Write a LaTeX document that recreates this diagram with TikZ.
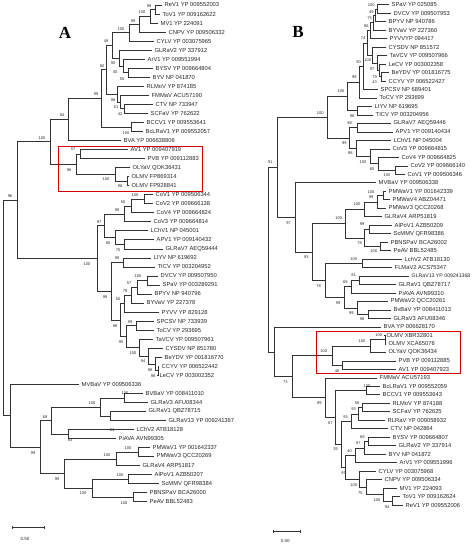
\documentclass[tikz,border=0pt]{standalone}
\usepackage{fontspec}
\usetikzlibrary{calc}
\setmainfont{Liberation Sans}
\newfontfamily\panelfont{Liberation Serif}
\begin{document}
\begin{tikzpicture}[x=1pt,y=-1pt]
\tikzset{
 br/.style={draw=black!80, line width=0.6pt},
 lf/.style={font=\fontsize{5.8}{6}\selectfont, anchor=west, inner xsep=2.5pt, inner ysep=0pt, text=black!85},
 lfn/.style={lf, font=\fontsize{5.2}{6}\selectfont},
 bs/.style={font=\fontsize{4}{4}\selectfont, inner sep=0pt, text=black!85},
 redbox/.style={draw=red!85!black, line width=0.8pt},
 panel/.style={font=\panelfont\bfseries\fontsize{17}{17}\selectfont, inner sep=0pt},
 sc/.style={font=\fontsize{4.5}{5}\selectfont, inner sep=0pt, text=black!85}
}
\newcommand\twig[3]{\draw[br] (#1) |- (#2); \draw[br] (#1) |- (#3);}
\useasboundingbox (0,0) rectangle (474,548);
% ===================== PANEL A =====================
\node[panel] (pA) at (65,33) {A};
\node[lf] (A1) at (162,5.0) {ReV1 YP 009552003};
\node[lf] (A2) at (160,14.03) {ToV1 YP 009162622};
\node[lf] (A3) at (158,23.06) {MV1 YP 224091};
\node[lf] (A4) at (166,32.09) {CNPV YP 009506332};
\node[lf] (A5) at (154,41.12) {CYLV YP 003075965};
\node[lf] (A6) at (152,50.15) {GLRaV2 YP 337912};
\node[lf] (A7) at (145,59.18) {ArV1 YP 009551994};
\node[lf] (A8) at (153,68.21) {BYSV YP 009664804};
\node[lf] (A9) at (150,77.24) {BYV NP 041870};
\node[lf] (A10) at (144,86.27) {RLMoV YP 874185};
\node[lf] (A11) at (149,95.3) {FMMaV ACU57190};
\node[lf] (A12) at (153,104.33) {CTV NP 733947};
\node[lf] (A13) at (148,113.36) {SCFaV YP 762622};
\node[lf] (A14) at (144,122.39) {BCCV1 YP 009553641};
\node[lf] (A15) at (143,131.42) {BcLRaV1 YP 009552057};
\node[lf] (A16) at (121,140.45) {BVA YP 006638806};
\node[lf] (A17) at (128,149.48) {AV1 YP 009407919};
\node[lf] (A18) at (145,158.51) {PVB YP 009112883};
\node[lf] (A19) at (130,167.54) {OLYaV QOK36431};
\node[lf] (A20) at (129,176.57) {OLMV FP869314};
\node[lf] (A21) at (129,185.6) {OLMV FP928841};
\node[lf] (A22) at (153,194.63) {CoV1 YP 009506344};
\node[lf] (A23) at (153,203.66) {CoV2 YP 009666138};
\node[lf] (A24) at (154,212.69) {CoV4 YP 009664824};
\node[lf] (A25) at (151,221.72) {CoV3 YP 009664814};
\node[lf] (A26) at (148,230.75) {LChV1 NP 045001};
\node[lf] (A27) at (154,239.78) {APV1 YP 009140432};
\node[lf] (A28) at (163,248.81) {GLRaV7 AEQ59444};
\node[lf] (A29) at (151,257.84) {LIYV NP 619692};
\node[lf] (A30) at (155,266.87) {TICV YP 003204952};
\node[lf] (A31) at (158,275.9) {DVCV YP 009507950};
\node[lf] (A32) at (160,284.93) {SPaV YP 003289291};
\node[lf] (A33) at (152,293.96) {BPYV NP 940796};
\node[lf] (A34) at (144,302.99) {BYVaV YP 227378};
\node[lf] (A35) at (159,312.02) {PYVV YP 829128};
\node[lf] (A36) at (154,321.05) {SPCSV NP 733939};
\node[lf] (A37) at (154,330.08) {ToCV YP 293695};
\node[lf] (A38) at (153,339.11) {TaVCV YP 009507961};
\node[lf] (A39) at (163,348.14) {CYSDV NP 851780};
\node[lf] (A40) at (162,357.17) {BeYDV YP 001816770};
\node[lf] (A41) at (159,366.2) {CCYV YP 006522442};
\node[lf] (A42) at (157,375.23) {LeCV YP 003002352};
\node[lf] (A43) at (79,384.26) {MVBaV YP 009506336};
\node[lf] (A44) at (143,393.29) {BVBaV YP 008411010};
\node[lf] (A45) at (148,402.32) {GLRaV3 AFU08344};
\node[lf] (A46) at (146,411.35) {GLRaV1 QBZ78715};
\node[lf] (A47) at (166,420.38) {GLRaV13 YP 009241367};
\node[lf] (A48) at (134,429.41) {LChV2 ATB18128};
\node[lf] (A49) at (116,438.44) {PiAVA AVN99305};
\node[lf] (A50) at (150,447.47) {PMWaV1 YP 001642337};
\node[lf] (A51) at (154,456.5) {PMWaV3 QCC20269};
\node[lf] (A52) at (140,465.53) {GLRaV4 ARP51817};
\node[lf] (A53) at (152,474.56) {AlPoV1 AZB50207};
\node[lf] (A54) at (159,483.59) {ScMMV QFR98384};
\node[lf] (A55) at (147,492.62) {PBNSPaV BCA26000};
\node[lf] (A56) at (147,501.65) {PeAV BBL52483};
% internal nodes A
\coordinate (na) at (155,9.5);
\coordinate (nb) at (150,16.3);
\coordinate (nc) at (139,24.2);
\coordinate (nd) at (129,32.7);
\coordinate (ni) at (128,72.7);
\coordinate (nh) at (123,65.9);
\coordinate (ng) at (119,58.0);
\coordinate (ne) at (112,45.4);
\coordinate (nr3) at (124,108.8);
\coordinate (nr2) at (120,102.1);
\coordinate (nr1) at (117,94.2);
\coordinate (nr4) at (131,126.9);
\coordinate (nk) at (106,69.8);
\coordinate (nj) at (101,98.4);
\coordinate (nl) at (68,119.4);
\coordinate (nm) at (80,154.0);
\coordinate (no) at (127,181.1);
\coordinate (nn) at (115,174.3);
\coordinate (np) at (76,164.2);
\coordinate (nq) at (50,141.8);
\coordinate (nrr) at (144,199.1);
\coordinate (ns) at (131,205.9);
\coordinate (nt) at (124,213.8);
\coordinate (nu) at (124,244.3);
\coordinate (nv) at (115,237.5);
\coordinate (nw) at (104,225.7);
\coordinate (nx) at (123,262.4);
\coordinate (ny1) at (147,280.4);
\coordinate (ny2) at (137,287.2);
\coordinate (ny3) at (131,295.1);
\coordinate (ny4) at (124,303.6);
\coordinate (nz1) at (136,325.6);
\coordinate (nz5) at (158,370.7);
\coordinate (nz4) at (155,363.9);
\coordinate (nz3) at (148,356.0);
\coordinate (nz2) at (139,347.6);
\coordinate (nz6) at (126,336.6);
\coordinate (nz7) at (120,320.1);
\coordinate (nz8) at (111,291.3);
\coordinate (nW) at (97,258.5);
\coordinate (nN) at (17,200.1);
\coordinate (nB1) at (124,397.8);
\coordinate (nB2) at (110,415.9);
\coordinate (nB3) at (100,406.9);
\coordinate (nB4) at (68,433.9);
\coordinate (nB5) at (51,420.4);
\coordinate (nC1) at (138,452.0);
\coordinate (nC2) at (116,458.8);
\coordinate (nC3) at (128,479.1);
\coordinate (nC4) at (133,497.1);
\coordinate (nC5) at (92,488.1);
\coordinate (nC6) at (64,473.5);
\coordinate (nC7) at (40,447.0);
\coordinate (nM) at (10,415.6);
\coordinate (nR) at (3,307.9);
\twig{na}{A1.west}{A2.west}
\twig{nb}{na}{A3.west}
\twig{nc}{nb}{A4.west}
\twig{nd}{nc}{A5.west}
\twig{ni}{A8.west}{A9.west}
\twig{nh}{A7.west}{ni}
\twig{ng}{A6.west}{nh}
\twig{ne}{nd}{ng}
\twig{nr3}{A12.west}{A13.west}
\twig{nr2}{A11.west}{nr3}
\twig{nr1}{A10.west}{nr2}
\twig{nr4}{A14.west}{A15.west}
\twig{nk}{ne}{nr1}
\twig{nj}{nk}{nr4}
\twig{nl}{nj}{A16.west}
\twig{nm}{A17.west}{A18.west}
\twig{no}{A20.west}{A21.west}
\twig{nn}{A19.west}{no}
\twig{np}{nm}{nn}
\twig{nq}{nl}{np}
\twig{nrr}{A22.west}{A23.west}
\twig{ns}{nrr}{A24.west}
\twig{nt}{ns}{A25.west}
\twig{nu}{A27.west}{A28.west}
\twig{nv}{A26.west}{nu}
\twig{nw}{nt}{nv}
\twig{nx}{A29.west}{A30.west}
\twig{ny1}{A31.west}{A32.west}
\twig{ny2}{ny1}{A33.west}
\twig{ny3}{ny2}{A34.west}
\twig{ny4}{ny3}{A35.west}
\twig{nz1}{A36.west}{A37.west}
\twig{nz5}{A41.west}{A42.west}
\twig{nz4}{A40.west}{nz5}
\twig{nz3}{A39.west}{nz4}
\twig{nz2}{A38.west}{nz3}
\twig{nz6}{nz1}{nz2}
\twig{nz7}{ny4}{nz6}
\twig{nz8}{nx}{nz7}
\twig{nW}{nw}{nz8}
\twig{nN}{nq}{nW}
\twig{nB1}{A44.west}{A45.west}
\twig{nB2}{A46.west}{A47.west}
\twig{nB3}{nB1}{nB2}
\twig{nB4}{A48.west}{A49.west}
\twig{nB5}{nB3}{nB4}
\twig{nC1}{A50.west}{A51.west}
\twig{nC2}{nC1}{A52.west}
\twig{nC3}{A53.west}{A54.west}
\twig{nC4}{A55.west}{A56.west}
\twig{nC5}{nC3}{nC4}
\twig{nC6}{nC2}{nC5}
\twig{nC7}{nB5}{nC6}
\twig{nM}{A43.west}{nC7}
\twig{nR}{nN}{nM}
% bootstrap A
\node[bs] (sa1) at (149,6) {99};
\node[bs] (sa2) at (142,12) {100};
\node[bs] (sa3) at (133,21) {89};
\node[bs] (sa4) at (121,29) {100};
\node[bs] (sa5) at (106,41) {49};
\node[bs] (sa6) at (113,63) {90};
\node[bs] (sa7) at (115,72) {30};
\node[bs] (sa8) at (122,79) {55};
\node[bs] (sa9) at (102,66) {80};
\node[bs] (sa10) at (96,94) {99};
\node[bs] (sa11) at (113,100) {98};
\node[bs] (sa12) at (116,107) {51};
\node[bs] (sa13) at (120,114) {42};
\node[bs] (sa14) at (62,115) {84};
\node[bs] (sa15) at (126,133) {100};
\node[bs] (sa16) at (42,138) {100};
\node[bs] (sa17) at (73,149) {57};
\node[bs] (sa18) at (69,170) {96};
\node[bs] (sa19) at (106,179) {100};
\node[bs] (sa20) at (120,186) {96};
\node[bs] (sa21) at (10,196) {96};
\node[bs] (sa22) at (135,195) {100};
\node[bs] (sa23) at (123,202) {50};
\node[bs] (sa24) at (117,210) {99};
\node[bs] (sa25) at (99,222) {97};
\node[bs] (sa26) at (108,243) {80};
\node[bs] (sa27) at (118,250) {75};
\node[bs] (sa28) at (87,264) {100};
\node[bs] (sa29) at (117,258) {99};
\node[bs] (sa30) at (138,276) {100};
\node[bs] (sa31) at (129,283) {57};
\node[bs] (sa32) at (125,291) {79};
\node[bs] (sa33) at (105,297) {99};
\node[bs] (sa34) at (118,299) {50};
\node[bs] (sa35) at (130,322) {99};
\node[bs] (sa36) at (115,326) {98};
\node[bs] (sa37) at (121,342) {95};
\node[bs] (sa38) at (133,353) {100};
\node[bs] (sa39) at (143,361) {94};
\node[bs] (sa40) at (150,370) {98};
\node[bs] (sa41) at (153,376) {98};
\node[bs] (sa42) at (125,393) {100};
\node[bs] (sa43) at (92,403) {100};
\node[bs] (sa44) at (112,430) {81};
\node[bs] (sa45) at (45,417) {69};
\node[bs] (sa46) at (70,440) {83};
\node[bs] (sa47) at (33,453) {99};
\node[bs] (sa48) at (128,448) {100};
\node[bs] (sa49) at (107,455) {100};
\node[bs] (sa50) at (57,479) {99};
\node[bs] (sa51) at (120,475) {100};
\node[bs] (sa52) at (83,493) {100};
\node[bs] (sa53) at (124,503) {100};
\draw[redbox] (58,146.7) rectangle (202,191);
\coordinate (scA1) at (12,527.7);
\coordinate (scA2) at (44,527.7);
\draw[br] (scA1) -- (scA2);
\draw[br] ($(scA1)+(0,-1.5)$) -- ($(scA1)+(0,1.5)$);
\draw[br] ($(scA2)+(0,-1.5)$) -- ($(scA2)+(0,1.5)$);
\node[sc] (scAt) at (25,539) {0.50};
% ===================== PANEL B =====================
\node[panel] (pB) at (298,32.3) {B};
\node[lf] (B1) at (389,4.7) {SPaV YP 025085};
\node[lf] (B2) at (391,13.18) {DVCV YP 009507953};
\node[lf] (B3) at (386,21.66) {BPYV NP 940786};
\node[lf] (B4) at (386,30.14) {BYVaV YP 227360};
\node[lf] (B5) at (387,38.62) {PYVVYP 094417};
\node[lf] (B6) at (386,47.1) {CYSDV NP 851572};
\node[lf] (B7) at (387,55.58) {TaVCV YP 009507966};
\node[lf] (B8) at (386,64.06) {LeCV YP 003002358};
\node[lf] (B9) at (389,72.54) {BeYDV YP 001816775};
\node[lf] (B10) at (386,81.02) {CCYV YP 006522427};
\node[lf] (B11) at (378,89.5) {SPCSV NP 689401};
\node[lf] (B12) at (377,97.98) {ToCV YP 293699};
\node[lf] (B13) at (372,106.46) {LIYV NP 619695};
\node[lf] (B14) at (373,114.94) {TICV YP 003204956};
\node[lf] (B15) at (391,123.42) {GLRaV7 AEQ59446};
\node[lf] (B16) at (393,131.9) {APV1 YP 009140434};
\node[lf] (B17) at (391,140.38) {LChV1 NP 045004};
\node[lf] (B18) at (390,148.86) {CoV3 YP 009664815};
\node[lf] (B19) at (399,157.34) {CoV4 YP 009664825};
\node[lf] (B20) at (408,165.82) {CoV2 YP 009666140};
\node[lf] (B21) at (405,174.3) {CoV1 YP 009506346};
\node[lf] (B22) at (376,182.78) {MVBaV YP 009506338};
\node[lf] (B23) at (386,191.26) {PMWaV1 YP 001642339};
\node[lf] (B24) at (390,199.74) {PMWaV4 ABZ04471};
\node[lf] (B25) at (386,208.22) {PMWaV3 QCC20268};
\node[lf] (B26) at (382,216.7) {GLRaV4 ARP51819};
\node[lf] (B27) at (392,225.18) {AlPoV1 AZB50209};
\node[lf] (B28) at (391,233.66) {ScMMV QFR98386};
\node[lf] (B29) at (388,242.14) {PBNSPaV BCA26002};
\node[lf] (B30) at (391,250.62) {PeAV BBL52485};
\node[lf] (B31) at (402,259.1) {LchV2 ATB18130};
\node[lf] (B32) at (392,267.58) {FLMaV2 ACS75347};
\node[lfn] (B33) at (409,276.06) {GLRaV13 YP 009241368};
\node[lf] (B34) at (396,284.54) {GLRaV1 QBZ78717};
\node[lf] (B35) at (396,293.02) {PiAVA AVN99310};
\node[lf] (B36) at (388,301.5) {PMWaV2 QCC20261};
\node[lf] (B37) at (391,309.98) {BvBaV YP 008411013};
\node[lf] (B38) at (391,318.46) {GLRaV3 AFU08346};
\node[lf] (B39) at (381,326.94) {BVA YP 006628170};
\node[lf] (B40) at (384,335.42) {OLMV XBR32801};
\node[lf] (B41) at (386,343.9) {OLMV XCA65076};
\node[lf] (B42) at (386,352.38) {OLYaV QOK36434};
\node[lf] (B43) at (396,360.86) {PVB YP 009112885};
\node[lf] (B44) at (396,369.34) {AV1 YP 009407923};
\node[lf] (B45) at (377,377.82) {FMMaV ACU57193};
\node[lf] (B46) at (380,386.3) {BcLRaV1 YP 009552059};
\node[lf] (B47) at (380,394.78) {BCCV1 YP 009553643};
\node[lf] (B48) at (390,403.26) {RLMoV YP 874188};
\node[lf] (B49) at (390,411.74) {SCFaV YP 762625};
\node[lf] (B50) at (385,420.22) {RLRaV YP 009058932};
\node[lf] (B51) at (388,428.7) {CTV NP 042864};
\node[lf] (B52) at (390,437.18) {BYSV YP 009664807};
\node[lf] (B53) at (396,445.66) {GLRaV2 YP 337914};
\node[lf] (B54) at (386,454.14) {BYV NP 041872};
\node[lf] (B55) at (397,462.62) {ArV1 YP 009551996};
\node[lf] (B56) at (376,471.1) {CYLV YP 003075968};
\node[lf] (B57) at (382,479.58) {CNPV YP 009506334};
\node[lf] (B58) at (397,488.06) {MV1 YP 224093};
\node[lf] (B59) at (400,496.54) {ToV1 YP 009162624};
\node[lf] (B60) at (403,505.02) {ReV1 YP 009552006};
% internal nodes B
\coordinate (mb1) at (377,8.94);
\coordinate (mb2) at (375,15.3);
\coordinate (mb3) at (373,22.7);
\coordinate (mb4) at (370,30.7);
\coordinate (mb8) at (381,76.8);
\coordinate (mb7) at (379,70.4);
\coordinate (mb6) at (377,63.0);
\coordinate (mb5) at (372,55.0);
\coordinate (mb9) at (367,42.9);
\coordinate (mb10) at (363,66.2);
\coordinate (mb11) at (359,82.1);
\coordinate (mb12) at (357,110.7);
\coordinate (mb13) at (347,96.4);
\coordinate (mc1) at (395,170.1);
\coordinate (mc2) at (378,163.7);
\coordinate (mc3) at (370,156.3);
\coordinate (mc4) at (356,148.3);
\coordinate (mc5) at (357,127.7);
\coordinate (mc6) at (349,138.0);
\coordinate (mtop) at (327,117.2);
\coordinate (md1) at (383,195.5);
\coordinate (md2) at (377,201.9);
\coordinate (md3) at (364,209.3);
\coordinate (md4) at (369,229.4);
\coordinate (md5) at (380,246.4);
\coordinate (md6) at (364,237.9);
\coordinate (md7) at (345,223.6);
\coordinate (me1) at (362,263.3);
\coordinate (me2) at (359,280.3);
\coordinate (me3) at (351,286.7);
\coordinate (me5) at (368,314.2);
\coordinate (me6) at (357,307.9);
\coordinate (meQ) at (344,297.3);
\coordinate (me7) at (325.3,280.3);
\coordinate (mD3) at (312,252.0);
\coordinate (mD2) at (295.3,217.4);
\coordinate (mD1) at (277,167.3);
\coordinate (mf1) at (385,339.7);
\coordinate (mf2) at (370,346.0);
\coordinate (mf3) at (342,365.1);
\coordinate (mf4) at (332,355.6);
\coordinate (mg1) at (366,390.5);
\coordinate (mg2) at (362,407.5);
\coordinate (mg3) at (358,413.9);
\coordinate (mg4) at (351,421.3);
\coordinate (mg5) at (368,441.4);
\coordinate (mg6) at (364,447.8);
\coordinate (mg7) at (355,455.2);
\coordinate (mh1) at (392,500.8);
\coordinate (mh2) at (383,494.4);
\coordinate (mh3) at (366,487.0);
\coordinate (mh4) at (359,479.0);
\coordinate (mJ) at (345,467.1);
\coordinate (mI) at (341,444.2);
\coordinate (mH) at (335.3,417.4);
\coordinate (mG) at (325.3,397.6);
\coordinate (mK1) at (292,376.6);
\coordinate (mK2) at (274.7,351.8);
\coordinate (mRB) at (268.7,259.6);
\twig{mb1}{B1.west}{B2.west}
\twig{mb2}{mb1}{B3.west}
\twig{mb3}{mb2}{B4.west}
\twig{mb4}{mb3}{B5.west}
\twig{mb8}{B9.west}{B10.west}
\twig{mb7}{B8.west}{mb8}
\twig{mb6}{B7.west}{mb7}
\twig{mb5}{B6.west}{mb6}
\twig{mb9}{mb4}{mb5}
\twig{mb10}{mb9}{B11.west}
\twig{mb11}{mb10}{B12.west}
\twig{mb12}{B13.west}{B14.west}
\twig{mb13}{mb11}{mb12}
\twig{mc1}{B20.west}{B21.west}
\twig{mc2}{B19.west}{mc1}
\twig{mc3}{B18.west}{mc2}
\twig{mc4}{B17.west}{mc3}
\twig{mc5}{B15.west}{B16.west}
\twig{mc6}{mc5}{mc4}
\twig{mtop}{mb13}{mc6}
\twig{md1}{B23.west}{B24.west}
\twig{md2}{md1}{B25.west}
\twig{md3}{md2}{B26.west}
\twig{md4}{B27.west}{B28.west}
\twig{md5}{B29.west}{B30.west}
\twig{md6}{md4}{md5}
\twig{md7}{md3}{md6}
\twig{me1}{B31.west}{B32.west}
\twig{me2}{B33.west}{B34.west}
\twig{me3}{me2}{B35.west}
\twig{me5}{B37.west}{B38.west}
\twig{me6}{B36.west}{me5}
\twig{meQ}{me3}{me6}
\twig{me7}{me1}{meQ}
\twig{mD3}{md7}{me7}
\twig{mD2}{B22.west}{mD3}
\twig{mD1}{mtop}{mD2}
\twig{mf1}{B40.west}{B41.west}
\twig{mf2}{mf1}{B42.west}
\twig{mf3}{B43.west}{B44.west}
\twig{mf4}{mf2}{mf3}
\twig{mg1}{B46.west}{B47.west}
\twig{mg2}{B48.west}{B49.west}
\twig{mg3}{mg2}{B50.west}
\twig{mg4}{mg3}{B51.west}
\twig{mg5}{B52.west}{B53.west}
\twig{mg6}{mg5}{B54.west}
\twig{mg7}{mg6}{B55.west}
\twig{mh1}{B59.west}{B60.west}
\twig{mh2}{B58.west}{mh1}
\twig{mh3}{B57.west}{mh2}
\twig{mh4}{B56.west}{mh3}
\twig{mJ}{mg7}{mh4}
\twig{mI}{mg4}{mJ}
\twig{mH}{mg1}{mI}
\twig{mG}{B45.west}{mH}
\twig{mK1}{mf4}{mG}
\twig{mK2}{B39.west}{mK1}
\twig{mRB}{mD1}{mK2}
% bootstrap B
\node[bs] (sb1) at (371.3,5) {100};
\node[bs] (sb2) at (371.3,11.7) {49};
\node[bs] (sb3) at (369.7,18.3) {75};
\node[bs] (sb4) at (366.3,26) {86};
\node[bs] (sb5) at (363,38.3) {74};
\node[bs] (sb6) at (367.7,60) {100};
\node[bs] (sb7) at (358.7,61.7) {90};
\node[bs] (sb8) at (372,69) {97};
\node[bs] (sb9) at (374.7,76.7) {79};
\node[bs] (sb10) at (374.7,81.7) {43};
\node[bs] (sb11) at (354.3,77.3) {98};
\node[bs] (sb12) at (341,91) {100};
\node[bs] (sb13) at (320.3,112.7) {100};
\node[bs] (sb14) at (352,115.7) {98};
\node[bs] (sb15) at (349.7,123.3) {98};
\node[bs] (sb16) at (344.3,143.3) {99};
\node[bs] (sb17) at (350.3,153.3) {98};
\node[bs] (sb18) at (363,161.7) {100};
\node[bs] (sb19) at (372,169.3) {65};
\node[bs] (sb20) at (387,175) {100};
\node[bs] (sb21) at (270.3,162.3) {91};
\node[bs] (sb22) at (371,191.7) {100};
\node[bs] (sb23) at (371,196.7) {99};
\node[bs] (sb24) at (357,204) {100};
\node[bs] (sb25) at (338.7,218.3) {100};
\node[bs] (sb26) at (362,224.3) {99};
\node[bs] (sb27) at (288.7,222.7) {97};
\node[bs] (sb28) at (359.7,243.3) {78};
\node[bs] (sb29) at (373.7,251) {100};
\node[bs] (sb30) at (306.3,256.7) {93};
\node[bs] (sb31) at (353.7,259.3) {100};
\node[bs] (sb32) at (353.7,275) {81};
\node[bs] (sb33) at (345.3,282.3) {69};
\node[bs] (sb34) at (318.7,286) {78};
\node[bs] (sb35) at (338,302.7) {99};
\node[bs] (sb36) at (351.3,313.3) {99};
\node[bs] (sb37) at (362,319.3) {98};
\node[bs] (sb38) at (378.7,335) {100};
\node[bs] (sb39) at (362,341) {100};
\node[bs] (sb40) at (323.7,351.2) {100};
\node[bs] (sb41) at (337,370.7) {46};
\node[bs] (sb42) at (285.3,381.7) {73};
\node[bs] (sb43) at (367,385.7) {100};
\node[bs] (sb44) at (357,402.7) {58};
\node[bs] (sb45) at (353.7,409.3) {93};
\node[bs] (sb46) at (319.3,402.7) {99};
\node[bs] (sb47) at (345.7,416.7) {93};
\node[bs] (sb48) at (330.3,422.7) {87};
\node[bs] (sb49) at (362.3,437.5) {69};
\node[bs] (sb50) at (358.3,443) {97};
\node[bs] (sb51) at (349.7,450.7) {40};
\node[bs] (sb52) at (335.7,449.3) {35};
\node[bs] (sb53) at (343.7,472.7) {97};
\node[bs] (sb54) at (353.7,485) {100};
\node[bs] (sb55) at (360.3,493.3) {75};
\node[bs] (sb56) at (377,500) {100};
\node[bs] (sb57) at (387,506.7) {94};
\draw[redbox] (316,331) rectangle (460,373.3);
\coordinate (scB1) at (273.7,531);
\coordinate (scB2) at (300.3,531);
\draw[br] (scB1) -- (scB2);
\draw[br] ($(scB1)+(0,-1.5)$) -- ($(scB1)+(0,1.5)$);
\draw[br] ($(scB2)+(0,-1.5)$) -- ($(scB2)+(0,1.5)$);
\node[sc] (scBt) at (285.3,540.7) {0.50};
\end{tikzpicture}
\end{document}
